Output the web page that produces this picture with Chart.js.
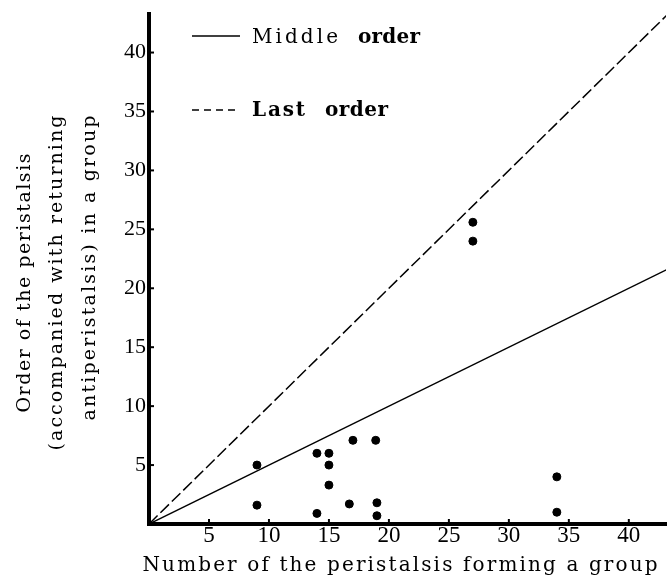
<!DOCTYPE html>
<html><head><meta charset="utf-8">
<script src="https://cdn.jsdelivr.net/npm/chart.js@4.4.0/dist/chart.umd.min.js"></script>
<style>html,body{margin:0;padding:0;background:#fff;overflow:hidden}#wrap{width:671px;height:585px}</style>
</head><body><div id="wrap"><canvas id="c" width="671" height="585"></canvas></div>
<script>
// ---- data ----
const xTickValues = [5, 10, 15, 20, 25, 30, 35, 40];
const yTickValues = [5, 10, 15, 20, 25, 30, 35, 40];
const groupSize  = [9, 9, 14, 15, 15, 15, 14, 17, 16.7, 18.9, 19, 19, 34, 34, 27, 27];
const orderValue = [5, 1.6, 6, 6, 5, 3.3, 0.9, 7.1, 1.7, 7.1, 1.8, 0.7, 4, 1, 25.6, 24];
const middleLineX = [0, 46];
const middleLineY = [0, 23];
const lastLineX = [0, 46];
const lastLineY = [0, 46];
const xMax = 43.1;
const yMax = 43.27;
const legendLabels = ['Middle order', 'Last order'];
const xTitle = 'Number of the peristalsis forming a group';
const yTitle = ['Order of the peristalsis', '(accompanied with returning', 'antiperistalsis) in a group'];

const SERIF = '"Liberation Serif", "Times New Roman", serif';
const WIDE = '"DejaVu Serif", serif';

function pts(xs, ys) { return xs.map((x, i) => ({x: x, y: ys[i]})); }

function fitText(ctx, text, cx, cy, target, angle) {
  ctx.save();
  ctx.translate(cx, cy);
  ctx.rotate(angle || 0);
  ctx.textAlign = 'left';
  ctx.textBaseline = 'middle';
  const chars = Array.from(text);
  const widths = chars.map(c => ctx.measureText(c).width);
  const natural = widths.reduce((a, b) => a + b, 0);
  const extra = chars.length > 1 ? (target - natural) / (chars.length - 1) : 0;
  let x = -target / 2;
  chars.forEach((c, i) => { ctx.fillText(c, x, 0); x += widths[i] + extra; });
  ctx.restore();
}

const decor = {
  id: 'decor',
  afterDraw(chart) {
    const ctx = chart.ctx;
    const xs = chart.scales.x, ys = chart.scales.y;
    const ca = chart.chartArea;
    ctx.save();
    ctx.strokeStyle = '#000';
    ctx.fillStyle = '#000';
    // inward tick stubs
    ctx.lineWidth = 2;
    xTickValues.forEach(v => {
      const px = xs.getPixelForValue(v);
      ctx.beginPath(); ctx.moveTo(px, ca.bottom); ctx.lineTo(px, ca.bottom - 5); ctx.stroke();
    });
    yTickValues.forEach(v => {
      const py = ys.getPixelForValue(v);
      ctx.beginPath(); ctx.moveTo(ca.left, py); ctx.lineTo(ca.left + 5, py); ctx.stroke();
    });
    // legend
    ctx.lineWidth = 1.5;
    ctx.beginPath(); ctx.moveTo(192, 36); ctx.lineTo(240, 36); ctx.stroke();
    ctx.setLineDash([7, 5]);
    ctx.beginPath(); ctx.moveTo(192, 110); ctx.lineTo(240, 110); ctx.stroke();
    ctx.setLineDash([]);
    const m = legendLabels[0].split(' '), l = legendLabels[1].split(' ');
    ctx.font = '20px ' + WIDE;
    fitText(ctx, m[0], 295, 38, 86);
    ctx.font = 'bold 20px ' + WIDE;
    fitText(ctx, m[1], 389, 38, 62);
    fitText(ctx, l[0], 278.5, 111, 53);
    fitText(ctx, l[1], 356.5, 111, 63);
    // axis titles
    ctx.font = '20px ' + WIDE;
    fitText(ctx, xTitle, 400, 566, 515);
    ctx.font = '19px ' + WIDE;
    fitText(ctx, yTitle[0], 25, 283, 259, -Math.PI / 2);
    fitText(ctx, yTitle[1], 57, 283, 335, -Math.PI / 2);
    fitText(ctx, yTitle[2], 90, 268, 305, -Math.PI / 2);
    ctx.restore();
  }
};

new Chart(document.getElementById('c'), {
  type: 'scatter',
  data: {
    datasets: [
      { label: legendLabels[0], data: pts(middleLineX, middleLineY), showLine: true,
        borderColor: '#000', borderWidth: 1.5, pointRadius: 0, fill: false },
      { label: legendLabels[1], data: pts(lastLineX, lastLineY), showLine: true,
        borderColor: '#000', borderWidth: 1.5, borderDash: [12, 4], pointRadius: 0, fill: false },
      { label: 'Observed', data: pts(groupSize, orderValue), showLine: false,
        backgroundColor: '#000', borderColor: '#000', pointRadius: 4, pointHoverRadius: 4 }
    ]
  },
  options: {
    responsive: false,
    animation: false,
    devicePixelRatio: 1,
    layout: { padding: { top: 13, right: 1, left: 0, bottom: 0 } },
    plugins: { legend: { display: false }, tooltip: { enabled: false } },
    events: [],
    scales: {
      x: {
        type: 'linear', min: 0, max: xMax,
        afterFit(s) { s.height = 61; },
        afterBuildTicks(s) { s.ticks = xTickValues.map(v => ({value: v})); },
        grid: { display: false, drawTicks: false },
        border: { display: true, color: '#000', width: 4 },
        ticks: { color: '#000', padding: 0, maxRotation: 0, autoSkip: false,
          font: { family: SERIF, size: 23, lineHeight: 1 } }
      },
      y: {
        type: 'linear', min: 0, max: yMax,
        afterFit(s) { s.width = 149; },
        afterBuildTicks(s) { s.ticks = yTickValues.map(v => ({value: v})); },
        grid: { display: false, drawTicks: false },
        border: { display: true, color: '#000', width: 4 },
        ticks: { color: '#000', padding: 3, autoSkip: false,
          font: { family: SERIF, size: 22, lineHeight: 1 } }
      }
    }
  },
  plugins: [decor]
});
</script>
</body></html>
